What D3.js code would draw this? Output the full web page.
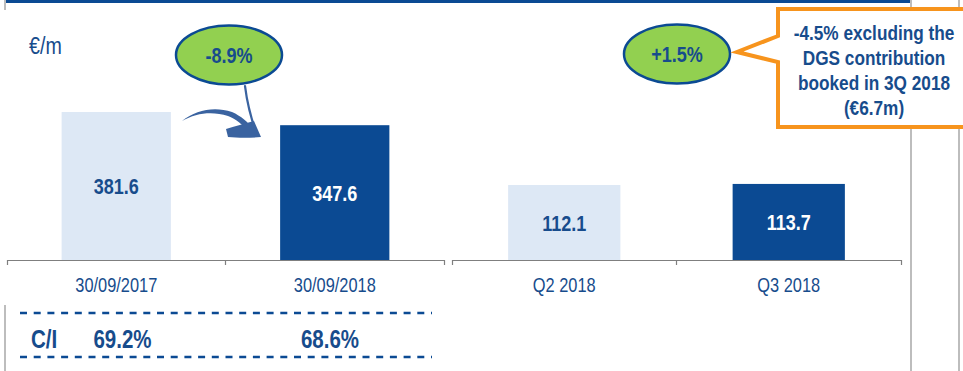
<!DOCTYPE html>
<html>
<head>
<meta charset="utf-8">
<script src="https://cdn.jsdelivr.net/npm/d3@7"></script>
<style>
  html, body { margin: 0; padding: 0; background: #fff; }
  svg { display: block; font-family: "Liberation Sans", Arial, sans-serif; }
</style>
</head>
<body>
<svg id="chart" width="963" height="371"></svg>
<script>
// Operating costs, nine months and quarterly
const unitLabel = "€/m";
const ytdCategories = ["30/09/2017", "30/09/2018"];
const ytdValues = [381.6, 347.6];
const quarterCategories = ["Q2 2018", "Q3 2018"];
const quarterValues = [112.1, 113.7];
const changeLabels = ["-8.9%", "+1.5%"];
const ciTitle = "C/I";
const ciValues = ["69.2%", "68.6%"];
const noteLines = ["-4.5% excluding the", "DGS contribution", "booked in 3Q 2018", "(€6.7m)"];

const BLUE = "#0b4a93";
const TEXT_BLUE = "#174c8c";
const LIGHT = "#dde8f5";
const GREEN = "#92d050";
const ORANGE = "#f7941d";
const GRID = "#bdbdbd";
const NARROW = 0.82; // horizontal squeeze giving a narrow face

const svg = d3.select("#chart");
const baseY = 260;

// text in a narrow face: horizontally scaled around its anchor point
function label(parent, x, y, str, size, opts = {}) {
  return parent.append("text")
    .attr("transform", `translate(${x},${y}) scale(${NARROW},1)`)
    .attr("text-anchor", opts.anchor || "middle")
    .attr("font-weight", opts.bold ? "bold" : "normal")
    .attr("font-size", size)
    .attr("fill", opts.fill || TEXT_BLUE)
    .text(str);
}

// frame decorations
svg.append("rect").attr("x", 5).attr("y", 0).attr("width", 905).attr("height", 3).attr("fill", BLUE);
svg.append("line").attr("x1", 5).attr("x2", 5).attr("y1", 0).attr("y2", 10).attr("stroke", GRID).attr("stroke-width", 2);
svg.append("line").attr("x1", 5).attr("x2", 5).attr("y1", 305).attr("y2", 371).attr("stroke", GRID).attr("stroke-width", 2);
[911, 959].forEach(x => svg.append("line").attr("x1", x).attr("x2", x).attr("y1", 0).attr("y2", 371).attr("stroke", GRID).attr("stroke-width", 2));

label(svg, 29, 54, unitLabel, 24, { anchor: "start" });

// one bar panel per period type, each with its own value scale
function panel(cats, vals, x0, x1, yMax, yTopPx) {
  const x = d3.scaleBand().domain(cats).range([x0, x1]).paddingInner(0.5).paddingOuter(0.25);
  const y = d3.scaleLinear().domain([0, yMax]).range([baseY, yTopPx]);
  const g = svg.append("g");
  const fills = [LIGHT, BLUE];
  const labelFills = [TEXT_BLUE, "#ffffff"];
  g.selectAll("rect.bar").data(vals).join("rect").attr("class", "bar")
    .attr("x", (d, i) => x(cats[i])).attr("width", x.bandwidth())
    .attr("y", d => y(d)).attr("height", d => y(0) - y(d))
    .attr("fill", (d, i) => fills[i]);
  vals.forEach((d, i) => {
    label(g, x(cats[i]) + x.bandwidth() / 2, (y(d) + y(0)) / 2 + 8, d.toFixed(1), 22,
      { bold: true, fill: labelFills[i] });
  });
  // category axis with ticks at band boundaries
  const axis = d3.axisBottom(x).tickSizeInner(0).tickSizeOuter(5).tickPadding(0);
  const ax = svg.append("g").attr("transform", `translate(0,${baseY})`).call(axis);
  ax.attr("font-family", null).attr("font-size", null);
  ax.select(".domain").attr("stroke", "#7f7f7f").attr("stroke-width", 1.2);
  ax.selectAll(".tick text").attr("font-size", 20).attr("fill", TEXT_BLUE)
    .attr("dy", null).attr("y", 0)
    .attr("transform", `translate(0,32) scale(${NARROW},1)`);
  ax.selectAll(".tick line").remove();
  const mid = (x(cats[0]) + x.bandwidth() + x(cats[1])) / 2;
  ax.append("line").attr("x1", mid).attr("x2", mid).attr("y1", 0).attr("y2", 5)
    .attr("stroke", "#7f7f7f").attr("stroke-width", 1.2);
  return { x, y };
}

panel(ytdCategories, ytdValues, 7, 444, 400, baseY - 400 * 0.3878);
panel(quarterCategories, quarterValues, 452, 901, 120, baseY - 120 * 0.669);

// change bubbles
const bubbles = [{ cx: 229, cy: 55, label: changeLabels[0] }, { cx: 677, cy: 54, label: changeLabels[1] }];
bubbles.forEach(b => {
  svg.append("ellipse").attr("cx", b.cx).attr("cy", b.cy).attr("rx", 53).attr("ry", 29.5)
    .attr("fill", GREEN).attr("stroke", BLUE).attr("stroke-width", 2.5);
  label(svg, b.cx, b.cy + 8, b.label, 22, { bold: true });
});

// brush-stroke arrow from the first bubble to the 2018 bar
const arrowColor = "#3a63a0";
svg.append("path")
  .attr("d", "M182,121 C196,110 214,106 232,112 C241,116 248,122 254,130 L249,132 C243,125 236,119 228,116 C212,111 196,113 182,121 Z")
  .attr("fill", arrowColor);
svg.append("path").attr("d", "M245,86 C247,102 251,118 256,132")
  .attr("fill", "none").attr("stroke", arrowColor).attr("stroke-width", 2.2).attr("stroke-linecap", "round");
svg.append("path").attr("d", "M226,129 C236,126 246,123 254,121 L261,137 C250,138 238,138 228,137 Z")
  .attr("fill", arrowColor);

// callout box with pointer
svg.append("path")
  .attr("d", "M778,36 L778,9 L975,9 L975,127 L778,127 L778,62 L737,52 Z")
  .attr("fill", "#fff").attr("stroke", ORANGE).attr("stroke-width", 4).attr("stroke-linejoin", "miter");
noteLines.forEach((t, i) => label(svg, 874, 40 + i * 25, t, 21, { bold: true }));

// cost/income row
const defs = svg.append("defs");
defs.append("filter").attr("id", "soft").attr("x", "-5%").attr("y", "-200%").attr("width", "110%").attr("height", "500%")
  .append("feGaussianBlur").attr("stdDeviation", 1.6);
[313, 357].forEach(yy => {
  svg.append("line").attr("x1", 20).attr("x2", 432).attr("y1", yy + 5).attr("y2", yy + 5)
    .attr("stroke", "#c8c8c8").attr("stroke-width", 3).attr("stroke-dasharray", "7 6.7")
    .attr("filter", "url(#soft)");
  svg.append("line").attr("x1", 20).attr("x2", 432).attr("y1", yy).attr("y2", yy)
    .attr("stroke", BLUE).attr("stroke-width", 2.5).attr("stroke-dasharray", "7 6.7");
});
label(svg, 31, 348, ciTitle, 25, { bold: true, anchor: "start" });
[122.5, 330].forEach((cx, i) => label(svg, cx, 348, ciValues[i], 25, { bold: true }));
</script>
</body>
</html>
